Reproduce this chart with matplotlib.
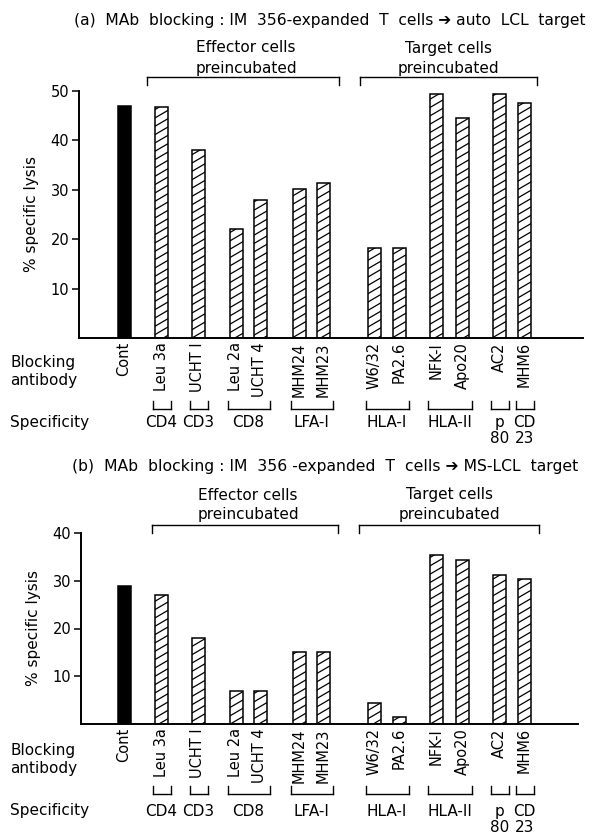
import numpy as np
import matplotlib
matplotlib.use("Agg")
import matplotlib.pyplot as plt
import matplotlib.hatch as mhatch
from matplotlib.path import Path
from matplotlib.lines import Line2D
import matplotlib.transforms as mtransforms

# ---------------- data ----------------
antibodies = ["Cont", "Leu 3a", "UCHT I", "Leu 2a", "UCHT 4", "MHM24", "MHM23",
              "W6/32", "PA2.6", "NFK-I", "Apo20", "AC2", "MHM6"]
lysis_a = [47, 46.8, 38, 22, 28, 30.2, 31.3, 18.2, 18.2, 49.3, 44.5, 49.3, 47.6]
lysis_b = [29, 27, 18, 7, 7, 15, 15, 4.5, 1.5, 35.3, 34.4, 31.3, 30.3]
specificity = ["CD4", "CD3", "CD8", "LFA-I", "HLA-I", "HLA-II", "p\n80", "CD\n23"]
spec_members = [(1, 1), (2, 2), (3, 4), (5, 6), (7, 8), (9, 10), (11, 11), (12, 12)]
title_a = "(a)  MAb  blocking : IM  356-expanded  T  cells \u2794 auto  LCL  target"
title_b = "(b)  MAb  blocking : IM  356 -expanded  T  cells \u2794 MS-LCL  target"
yticks_a = [10, 20, 30, 40, 50]
yticks_b = [10, 20, 30, 40]


# ---------------- shallower diagonal hatch (like the printed figure) ----------------
class ShallowNE(mhatch.HatchPatternBase):
    def __init__(self, hatch, density):
        n = int((hatch.count('/') + hatch.count('x') + hatch.count('X')) * density)
        self.n = n
        if n:
            self.k = int(round(0.6 * n))
            self.num_lines = n + self.k + 1
            self.num_vertices = self.num_lines * 2
        else:
            self.k = 0
            self.num_lines = 0
            self.num_vertices = 0

    def set_vertices_and_codes(self, vertices, codes):
        n, k = self.n, self.k
        c = np.arange(-k, n + 1) / n
        s = k / n
        vertices[0::2, 0] = 0.0
        vertices[0::2, 1] = c
        vertices[1::2, 0] = 1.0
        vertices[1::2, 1] = c + s
        codes[0::2] = Path.MOVETO
        codes[1::2] = Path.LINETO


mhatch._hatch_types[mhatch._hatch_types.index(mhatch.NorthEastHatch)] = ShallowNE

# ---------------- layout (pixel units of the 597x836 image) ----------------
W, H = 597, 836
xpos = [124, 161, 198, 236, 260, 299, 323, 374, 399, 436, 462, 499, 524]
BW = 13

plt.rcParams["font.family"] = ["DejaVu Sans"]
plt.rcParams["hatch.linewidth"] = 0.9
fig = plt.figure(figsize=(W / 100, H / 100), dpi=100)
T = mtransforms.Affine2D().scale(1, -1).translate(0, H)  # image px -> display


def hline(x0, x1, y, lw=1.0):
    fig.add_artist(Line2D([x0, x1], [y, y], transform=T, color="black", lw=lw))


def vline(x, y0, y1, lw=1.0):
    fig.add_artist(Line2D([x, x], [y0, y1], transform=T, color="black", lw=lw))


def ptext(x, y, s, **kw):
    fig.text(x, y, s, transform=T, **kw)


def panel(vals, yticks, ymax, left, right, top, bottom, title, title_y, title_x,
          title_w, eff_y, pre_y, br_y, eff_br, tgt_br, lab_y, spec_y, sbr_y):
    ax = fig.add_axes([left / W, 1 - bottom / H, (right - left) / W, (bottom - top) / H])
    ax.set_xlim(left, right)
    ax.set_ylim(0, ymax)
    for i, v in enumerate(vals):
        if i == 0:
            ax.bar(xpos[i], v, width=BW, color="black", edgecolor="black", lw=1.1)
        else:
            ax.bar(xpos[i], v, width=BW, facecolor="white", edgecolor="black",
                   lw=1.1, hatch="//")
    for s in ("top", "right"):
        ax.spines[s].set_visible(False)
    ax.spines["left"].set_linewidth(1.4)
    ax.spines["bottom"].set_linewidth(1.4)
    ax.set_yticks(yticks)
    ax.set_yticklabels([str(t) for t in yticks], fontsize=10.5)
    ax.tick_params(axis="y", direction="out", length=5, width=1.1, pad=2)
    ax.set_xticks(xpos)
    ax.set_xticklabels(antibodies, rotation=90, fontsize=10.5)
    ax.tick_params(axis="x", length=0, pad=3)
    ax.set_ylabel("% specific lysis", fontsize=11, labelpad=8)

    # title, fitted to width
    t = fig.text(title_x, title_y, title, transform=T, fontsize=11, va="center", ha="left")
    r = fig.canvas.get_renderer()
    w = t.get_window_extent(r).width
    t.set_fontsize(11 * title_w / w)

    # effector / target headers
    ptext((eff_br[0] + eff_br[1]) / 2 + 3, eff_y, "Effector cells", fontsize=11, ha="center", va="center")
    ptext((eff_br[0] + eff_br[1]) / 2 + 3, pre_y, "preincubated", fontsize=11, ha="center", va="center")
    ptext((tgt_br[0] + tgt_br[1]) / 2, eff_y, "Target cells", fontsize=11, ha="center", va="center")
    ptext((tgt_br[0] + tgt_br[1]) / 2, pre_y, "preincubated", fontsize=11, ha="center", va="center")
    for x0, x1 in (eff_br, tgt_br):
        hline(x0, x1, br_y)
        vline(x0, br_y, br_y + 8)
        vline(x1, br_y, br_y + 8)

    # left labels
    ptext(10, lab_y, "Blocking", fontsize=11, va="center")
    ptext(10, lab_y + 19, "antibody", fontsize=11, va="center")
    ptext(10, spec_y + 7, "Specificity", fontsize=11, va="center")

    # specificity brackets
    for name, (i0, i1) in zip(specificity, spec_members):
        x0 = xpos[i0] - BW / 2 - 2
        x1 = xpos[i1] + BW / 2 + 3
        hline(x0, x1, sbr_y, lw=1.0)
        vline(x0, sbr_y, sbr_y - 8, lw=1.0)
        vline(x1, sbr_y, sbr_y - 8, lw=1.0)
        ptext((x0 + x1) / 2, spec_y, name, fontsize=11, ha="center", va="top",
              linespacing=1.1)
    return ax


panel(lysis_a, yticks_a, 50, 79, 583, 91, 338, title_a, 21, 74, 515,
      48, 69, 77, (147, 339), (360, 537), 362, 415, 409)
panel(lysis_b, yticks_b, 40, 81, 578, 533, 724, title_b, 467, 72, 508,
      495, 515, 525, (152, 338), (359, 539), 750, 804, 794)

fig.savefig("out.png", dpi=100)
